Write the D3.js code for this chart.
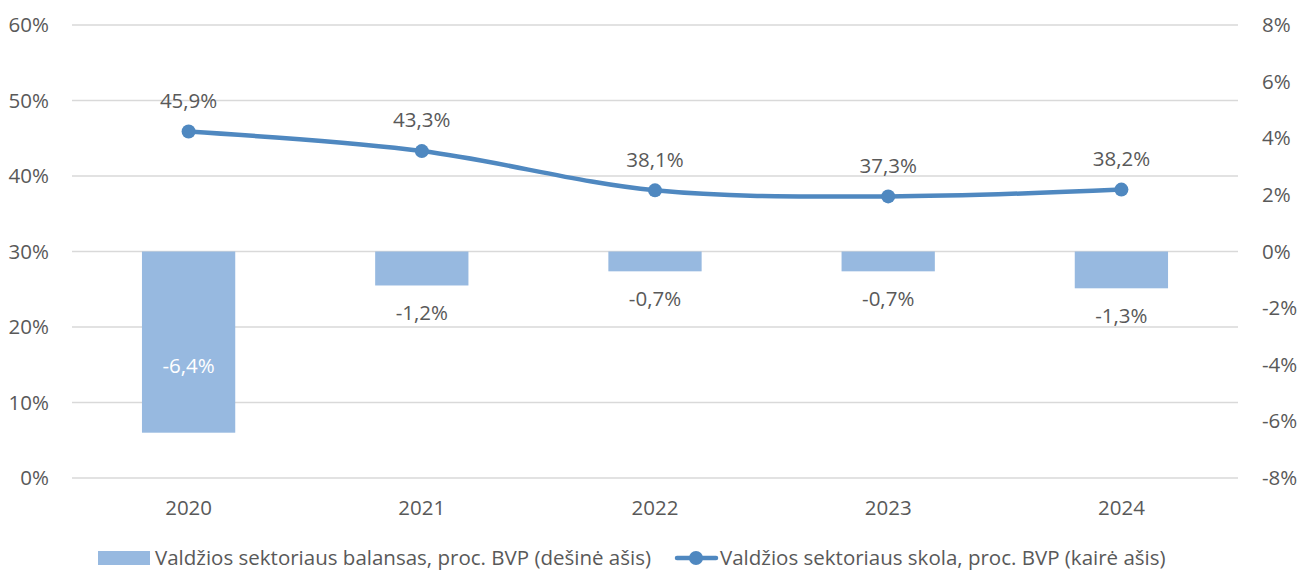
<!DOCTYPE html>
<html>
<head>
<meta charset="utf-8">
<script src="https://cdn.jsdelivr.net/npm/d3@7"></script>
<style>
  body { margin: 0; background: #fff; }
  text { font-family: "Open Sans", "Noto Sans", sans-serif; fill: #595959; }
</style>
</head>
<body>
<div id="chart"></div>
<script>
// data
var years = ["2020", "2021", "2022", "2023", "2024"];
var debt = [45.9, 43.3, 38.1, 37.3, 38.2];      // left axis
var balance = [-6.4, -1.2, -0.7, -0.7, -1.3];   // right axis
var leftTicks = [0, 10, 20, 30, 40, 50, 60];
var rightTicks = [-8, -6, -4, -2, 0, 2, 4, 6, 8];
var seriesNames = ["Valdžios sektoriaus balansas, proc. BVP (dešinė ašis)",
                   "Valdžios sektoriaus skola, proc. BVP (kairė ašis)"];

var width = 1299, height = 572;
var plotLeft = 72, plotRight = 1238, plotTop = 25, plotBottom = 478;
var barColor = "#97b9e0", lineColor = "#4f88c0";
var fs = "20.5px";

function pct(v) { return String(v).replace(".", ",") + "%"; }

var svg = d3.select("#chart").append("svg")
    .attr("width", width)
    .attr("height", height);

var x = d3.scaleBand().domain(years).range([plotLeft, plotRight]).paddingInner(0.6).paddingOuter(0.3);
var xc = function(d) { return x(d) + x.bandwidth() / 2; };
var yL = d3.scaleLinear().domain([0, 60]).range([plotBottom, plotTop]);
var yR = d3.scaleLinear().domain([-8, 8]).range([plotBottom, plotTop]);

// gridlines
svg.append("g").selectAll("line")
    .data(leftTicks)
  .enter().append("line")
    .attr("x1", plotLeft).attr("x2", plotRight)
    .attr("y1", function(d) { return yL(d); })
    .attr("y2", function(d) { return yL(d); })
    .attr("stroke", "#d9d9d9")
    .attr("stroke-width", 1.3);

// axes
var gL = svg.append("g")
    .attr("transform", "translate(" + plotLeft + ",0)")
    .call(d3.axisLeft(yL).tickValues(leftTicks).tickSize(0).tickPadding(23).tickFormat(function(d) { return d + "%"; }));
var gR = svg.append("g")
    .attr("transform", "translate(" + plotRight + ",0)")
    .call(d3.axisRight(yR).tickValues(rightTicks).tickSize(0).tickPadding(24).tickFormat(function(d) { return d + "%"; }));
var gX = svg.append("g")
    .attr("transform", "translate(0," + plotBottom + ")")
    .call(d3.axisBottom(x).tickSize(0).tickPadding(22));
[gL, gR, gX].forEach(function(g) {
    g.select(".domain").remove();
    g.selectAll("text").style("font-size", fs).attr("fill", "#595959")
        .style("font-family", "'Open Sans', 'Noto Sans', sans-serif");
});

// bars
svg.append("g").selectAll("rect")
    .data(balance)
  .enter().append("rect")
    .attr("x", function(d, i) { return x(years[i]); })
    .attr("width", x.bandwidth())
    .attr("y", function(d) { return yR(Math.max(0, d)); })
    .attr("height", function(d) { return Math.abs(yR(d) - yR(0)); })
    .attr("fill", barColor);

// bar labels
svg.append("g").selectAll("text")
    .data(balance)
  .enter().append("text")
    .attr("x", function(d, i) { return xc(years[i]); })
    .attr("y", function(d) { return d < -5 ? yR(d) - 67 : yR(d) + 27; })
    .attr("dy", "0.36em")
    .attr("text-anchor", "middle")
    .style("font-size", fs)
    .style("fill", function(d) { return d < -5 ? "#fff" : "#595959"; })
    .text(pct);

// line
var line = d3.line()
    .x(function(d, i) { return xc(years[i]); })
    .y(function(d) { return yL(d); })
    .curve(d3.curveCatmullRom.alpha(0));
svg.append("path")
    .datum(debt)
    .attr("d", line)
    .attr("fill", "none")
    .attr("stroke", lineColor)
    .attr("stroke-width", 4.5)
    .attr("stroke-linecap", "round");
svg.append("g").selectAll("circle")
    .data(debt)
  .enter().append("circle")
    .attr("cx", function(d, i) { return xc(years[i]); })
    .attr("cy", function(d) { return yL(d); })
    .attr("r", 7)
    .attr("fill", lineColor);
svg.append("g").selectAll("text")
    .data(debt)
  .enter().append("text")
    .attr("x", function(d, i) { return xc(years[i]); })
    .attr("y", function(d) { return yL(d) - 31; })
    .attr("dy", "0.36em")
    .attr("text-anchor", "middle")
    .style("font-size", fs)
    .text(pct);

// legend
var legY = 558;
var lg = svg.append("g");
lg.append("rect").attr("x", 98).attr("y", legY - 7).attr("width", 52).attr("height", 14).attr("fill", barColor);
lg.append("text").attr("x", 155).attr("y", legY).attr("dy", "0.36em").style("font-size", fs).text(seriesNames[0]);
lg.append("line").attr("x1", 677).attr("x2", 716).attr("y1", legY).attr("y2", legY)
    .attr("stroke", lineColor).attr("stroke-width", 4.5).attr("stroke-linecap", "round");
lg.append("circle").attr("cx", 696).attr("cy", legY).attr("r", 7).attr("fill", lineColor);
lg.append("text").attr("x", 720).attr("y", legY).attr("dy", "0.36em").style("font-size", fs).text(seriesNames[1]);
</script>
</body>
</html>
